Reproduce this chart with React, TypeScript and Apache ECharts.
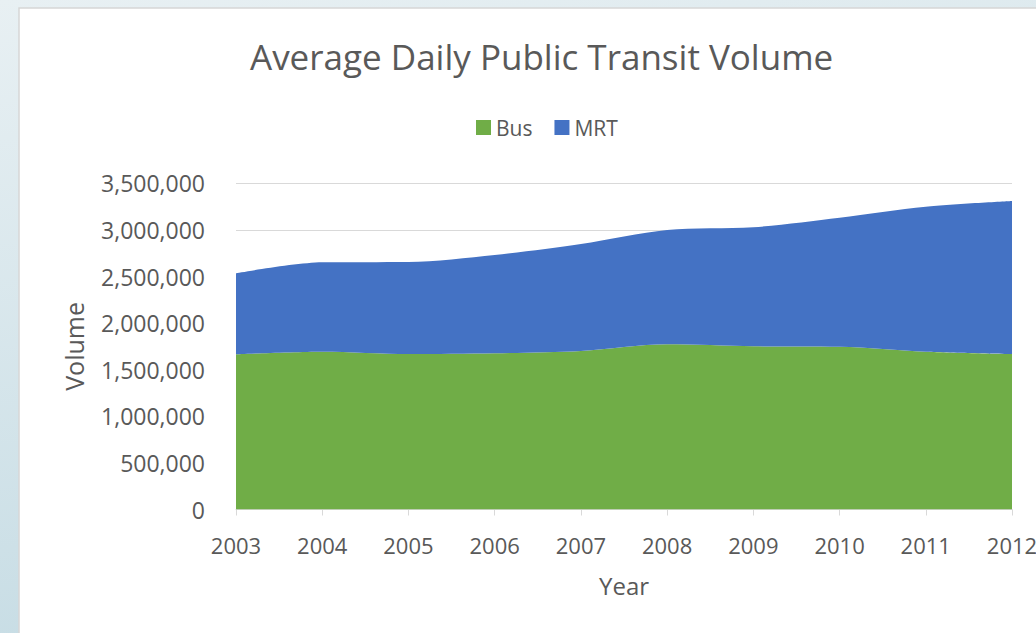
import React, { useEffect, useRef } from "react";
import * as echarts from "echarts";

const years = ["2003", "2004", "2005", "2006", "2007", "2008", "2009", "2010", "2011", "2012"];
const busVolume = [1665000, 1693000, 1668000, 1676000, 1701000, 1772000, 1751000, 1747000, 1693000, 1668000];
const mrtVolume = [869000, 959000, 987000, 1055000, 1148000, 1227000, 1277000, 1384000, 1556000, 1642000];
const yTicks = { min: 0, max: 3500000, interval: 500000 };

const FONT = "'Open Sans', 'Noto Sans', sans-serif";
const TXT = "#595959";

export default function App() {
  const ref = useRef<HTMLDivElement>(null);
  useEffect(() => {
    if (!ref.current) return;
    const chart = echarts.init(ref.current, null, { renderer: "svg" });
    chart.setOption({
      animation: false,
      backgroundColor: {
        type: "linear", x: 0, y: 0, x2: 0.3, y2: 1,
        colorStops: [
          { offset: 0, color: "#e8f0f3" },
          { offset: 1, color: "#c6dce4" },
        ],
      },
      graphic: [
        {
          type: "rect",
          z: -10,
          silent: true,
          shape: { x: 19, y: 8, width: 1100, height: 700 },
          style: { fill: "#ffffff", stroke: "#d6d6d6", lineWidth: 1.5 },
        },
      ],
      title: {
        text: "Average Daily Public Transit Volume",
        left: 250,
        top: 39,
        padding: 0,
        textStyle: { fontFamily: FONT, fontSize: 35, fontWeight: "normal", color: TXT },
      },
      legend: {
        data: ["Bus", "MRT"],
        left: 476,
        top: 117,
        padding: 0,
        itemWidth: 15,
        itemHeight: 15,
        itemGap: 22,
        icon: "rect",
        textStyle: { fontFamily: FONT, fontSize: 21, color: TXT, padding: [0, 0, 0, 0] },
      },
      grid: { left: 236, right: 24, top: 183.3, bottom: 123.5, containLabel: false, outerBoundsMode: "none" },
      xAxis: {
        type: "category",
        data: years,
        boundaryGap: false,
        name: "Year",
        nameLocation: "middle",
        nameGap: 64,
        nameTextStyle: { fontFamily: FONT, fontSize: 24, color: TXT, verticalAlign: "top" },
        axisLine: { lineStyle: { color: "#d9d9d9", width: 1 } },
        axisTick: { show: true, length: 6, lineStyle: { color: "#d9d9d9" } },
        axisLabel: { fontFamily: FONT, fontSize: 22, color: TXT, margin: 24, hideOverlap: false },
        splitLine: { show: false },
      },
      yAxis: {
        type: "value",
        min: yTicks.min,
        max: yTicks.max,
        interval: yTicks.interval,
        name: "Volume",
        nameLocation: "middle",
        nameGap: 150,
        nameRotate: 90,
        nameTextStyle: { fontFamily: FONT, fontSize: 25, color: TXT },
        axisLine: { show: false },
        axisTick: { show: false },
        axisLabel: {
          fontFamily: FONT,
          fontSize: 23,
          color: TXT,
          margin: 31,
          formatter: (v: number) => v.toLocaleString("en-US"),
        },
        splitLine: { lineStyle: { color: "#d9d9d9", width: 1 } },
      },
      series: [
        {
          name: "Bus",
          type: "line",
          stack: "total",
          data: busVolume,
          smooth: 0.3,
          symbol: "none",
          lineStyle: { width: 0 },
          itemStyle: { color: "#70ad47" },
          areaStyle: { color: "#70ad47", opacity: 1 },
        },
        {
          name: "MRT",
          type: "line",
          stack: "total",
          data: mrtVolume,
          smooth: 0.3,
          symbol: "none",
          lineStyle: { width: 0 },
          itemStyle: { color: "#4472c4" },
          areaStyle: { color: "#4472c4", opacity: 1 },
        },
      ],
    });
    return () => chart.dispose();
  }, []);
  return (
    <div style={{ position: "fixed", left: 0, top: 0, width: 1036, height: 633 }}>
      <div ref={ref} style={{ width: 1036, height: 633 }} />
    </div>
  );
}
